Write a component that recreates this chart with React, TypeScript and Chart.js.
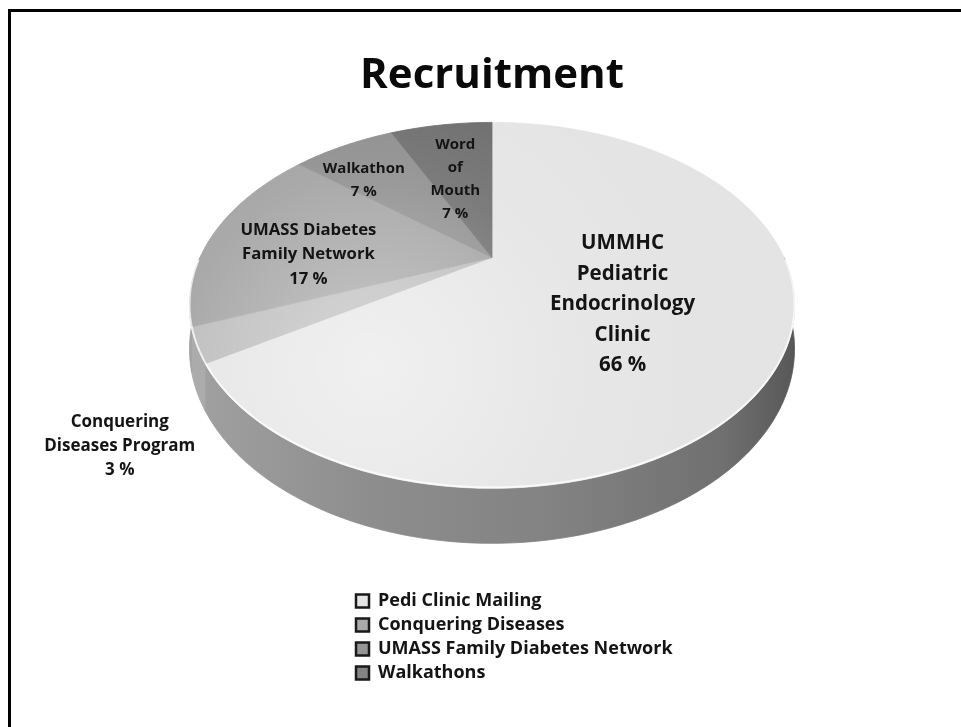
import React, { useEffect, useRef } from 'react';
import { Chart, registerables } from 'chart.js';

Chart.register(...registerables);

// ---- data ----
const TITLE = 'Recruitment';
const SLICE_NAMES = [
  'UMMHC Pediatric Endocrinology Clinic',
  'Conquering Diseases Program',
  'UMASS Diabetes Family Network',
  'Walkathon',
  'Word of Mouth',
];
const SLICE_NAME_LINES = [
  ['UMMHC', 'Pediatric', 'Endocrinology', 'Clinic'],
  ['Conquering', 'Diseases Program'],
  ['UMASS Diabetes', 'Family Network'],
  ['Walkathon'],
  ['Word', 'of', 'Mouth'],
];
const SLICE_VALUES = [66, 3, 17, 7, 7];
const LEGEND_LABELS = [
  'Pedi Clinic Mailing',
  'Conquering Diseases',
  'UMASS Family Diabetes Network',
  'Walkathons',
];

// ---- styles ----
const SLICE_COLORS = ['#e4e4e4', '#b8b8b8', '#9e9e9e', '#8a8a8a', '#6a6a6a'];
const LEGEND_COLORS = ['#e6e6e6', '#aaaaaa', '#969696', '#848484'];
const FONT = '"Open Sans", "DejaVu Sans", sans-serif';
const TEXT_COLOR = '#141414';
// label placement: radial fraction of the slice, pixel nudge, font size, line height
const LABEL_STYLE = [
  { r: 0.5, dx: -6, dy: 3, size: 20.5, lh: 30.5 },
  { r: 1, dx: -77, dy: 101, size: 17, lh: 24 },
  { r: 0.65, dx: -1, dy: 14, size: 16.7, lh: 24.5 },
  { r: 0.75, dx: -12, dy: 10, size: 15, lh: 23 },
  { r: 0.55, dx: -6, dy: 2, size: 15, lh: 23 },
];
// perspective view of the pie (units of the pie radius)
const VIEW = { persp: -0.262, sx: 2.056, sy: 1.2, oy: -0.642, depth: 0.286 };
const LEGEND_BOX_WIDTH = 360;

const pie3d = {
  id: 'pie3d',
  afterLayout(chart: any) {
    // let the legend rows run wider than the pie's area (no clipping)
    const lg = chart.legend;
    if (lg) {
      lg.right = lg.left + LEGEND_BOX_WIDTH;
      lg.width = LEGEND_BOX_WIDTH;
    }
  },
  beforeDatasetsDraw(chart: any) {
    const meta = chart.getDatasetMeta(0);
    const arcs = meta.data;
    if (!arcs.length) return false;
    const ctx: CanvasRenderingContext2D = chart.ctx;
    const cx = arcs[0].x;
    const cy = arcs[0].y;
    const R = arcs[0].outerRadius;
    const P = (u: number, v: number, dep: number): [number, number] => {
      const d = 1 + VIEW.persp * v;
      return [cx + (VIEW.sx * R * u) / d, cy + VIEW.oy * R + (VIEW.sy * R * v + dep * VIEW.depth * R) / d];
    };
    const arcPts = (s: number, e: number, dep: number, r = 1) => {
      const n = Math.max(2, Math.ceil(((e - s) / (2 * Math.PI)) * 360));
      const pts: [number, number][] = [];
      for (let i = 0; i <= n; i++) {
        const a = s + ((e - s) * i) / n;
        pts.push(P(r * Math.cos(a), r * Math.sin(a), dep));
      }
      return pts;
    };

    ctx.save();
    // side walls (front half only)
    const xl = P(-1.05, 0.26, 0)[0];
    const xr = P(1.05, 0.26, 0)[0];
    const wallGrad = ctx.createLinearGradient(xl, 0, xr, 0);
    wallGrad.addColorStop(0, '#a4a4a4');
    wallGrad.addColorStop(0.3, '#8e8e8e');
    wallGrad.addColorStop(0.6, '#828282');
    wallGrad.addColorStop(0.85, '#707070');
    wallGrad.addColorStop(0.95, '#5a5a5a');
    wallGrad.addColorStop(1, '#464646');
    arcs.forEach((arc: any, i: number) => {
      const s = arc.startAngle;
      const e = arc.endAngle;
      for (let k = -1; k <= 1; k++) {
        const lo = Math.max(s, 2 * Math.PI * k);
        const hi = Math.min(e, Math.PI + 2 * Math.PI * k);
        if (hi <= lo) continue;
        const top = arcPts(lo, hi, 0);
        const bot = arcPts(lo, hi, 1).reverse();
        ctx.beginPath();
        top.forEach((p, j) => (j ? ctx.lineTo(p[0], p[1]) : ctx.moveTo(p[0], p[1])));
        bot.forEach((p) => ctx.lineTo(p[0], p[1]));
        ctx.closePath();
        ctx.fillStyle = wallGrad;
        ctx.fill();
        ctx.strokeStyle = wallGrad;
        ctx.lineWidth = 0.8;
        ctx.stroke();
        if (i === 1) {
          ctx.fillStyle = 'rgba(255,255,255,0.12)';
          ctx.fill();
        }
      }
    });

    // top faces
    const c0 = P(0, 0, 0);
    arcs.forEach((arc: any) => {
      ctx.beginPath();
      ctx.moveTo(c0[0], c0[1]);
      arcPts(arc.startAngle, arc.endAngle, 0).forEach((p) => ctx.lineTo(p[0], p[1]));
      ctx.closePath();
      ctx.fillStyle = arc.options.backgroundColor;
      ctx.fill();
      ctx.strokeStyle = arc.options.backgroundColor;
      ctx.lineWidth = 0.8;
      ctx.stroke();
    });

    // soft light on the top face
    ctx.save();
    ctx.beginPath();
    arcPts(0, 2 * Math.PI, 0).forEach((p, j) => (j ? ctx.lineTo(p[0], p[1]) : ctx.moveTo(p[0], p[1])));
    ctx.closePath();
    ctx.clip();
    const hc = P(-0.35, 0.55, 0);
    const hl = ctx.createRadialGradient(hc[0], hc[1], 0, hc[0], hc[1], VIEW.sx * R * 1.1);
    hl.addColorStop(0, 'rgba(255,255,255,0.45)');
    hl.addColorStop(0.6, 'rgba(255,255,255,0.12)');
    hl.addColorStop(1, 'rgba(255,255,255,0)');
    ctx.fillStyle = hl;
    ctx.fill();
    ctx.restore();

    // bevel highlight along the front rim
    ctx.beginPath();
    arcPts(0.02, Math.PI - 0.02, 0).forEach((p, j) => (j ? ctx.lineTo(p[0], p[1] - 1) : ctx.moveTo(p[0], p[1] - 1)));
    ctx.strokeStyle = 'rgba(255,255,255,0.75)';
    ctx.lineWidth = 2;
    ctx.stroke();

    // data labels
    const total = SLICE_VALUES.reduce((a, b) => a + b, 0);
    ctx.fillStyle = TEXT_COLOR;
    ctx.textAlign = 'center';
    ctx.textBaseline = 'middle';
    arcs.forEach((arc: any, i: number) => {
      const st = LABEL_STYLE[i];
      const mid = (arc.startAngle + arc.endAngle) / 2;
      const p = P(st.r * Math.cos(mid), st.r * Math.sin(mid), 0);
      const lines = [...SLICE_NAME_LINES[i], `${Math.round((SLICE_VALUES[i] / total) * 100)} %`];
      ctx.font = `bold ${st.size}px ${FONT}`;
      const y0 = p[1] + st.dy - ((lines.length - 1) * st.lh) / 2;
      lines.forEach((t, j) => ctx.fillText(t, p[0] + st.dx, y0 + j * st.lh));
    });
    ctx.restore();
    return false;
  },
};

export default function App() {
  const ref = useRef<HTMLCanvasElement>(null);
  useEffect(() => {
    if (!ref.current) return;
    const chart = new Chart(ref.current, {
      type: 'pie',
      data: {
        labels: SLICE_NAMES,
        datasets: [
          {
            data: SLICE_VALUES,
            backgroundColor: SLICE_COLORS,
            borderWidth: 0,
          },
        ],
      },
      options: {
        responsive: false,
        animation: false,
        events: [],
        layout: { padding: { left: 350, right: 327, top: 10, bottom: 35 } },
        plugins: {
          title: {
            display: true,
            text: TITLE,
            color: '#0a0a0a',
            font: { family: FONT, size: 42, weight: 'bold' },
            padding: { top: 40.8, bottom: 10 },
          },
          legend: {
            display: true,
            position: 'bottom',
            align: 'start',
            fullSize: false,
            labels: {
              boxWidth: 13,
              boxHeight: 13,
              padding: 6,
              color: TEXT_COLOR,
              font: { family: FONT, size: 18, weight: 'bold' },
              generateLabels: () =>
                LEGEND_LABELS.map((t, i) => ({
                  text: t,
                  fillStyle: LEGEND_COLORS[i],
                  strokeStyle: '#1a1a1a',
                  lineWidth: 2.5,
                  hidden: false,
                  index: i,
                  fontColor: TEXT_COLOR,
                })),
            },
          },
          tooltip: { enabled: false },
        },
      },
      plugins: [pie3d],
    } as any);
    return () => chart.destroy();
  }, []);

  return (
    <div style={{ position: 'fixed', left: 0, top: 0, width: 961, height: 727, background: '#fff' }}>
      <div
        style={{
          position: 'absolute',
          left: 8,
          top: 9,
          right: 0,
          bottom: 0,
          borderTop: '3px solid #000',
          borderLeft: '3px solid #000',
        }}
      />
      <canvas ref={ref} width={961} height={727} style={{ position: 'absolute', left: 0, top: 0 }} />
    </div>
  );
}
